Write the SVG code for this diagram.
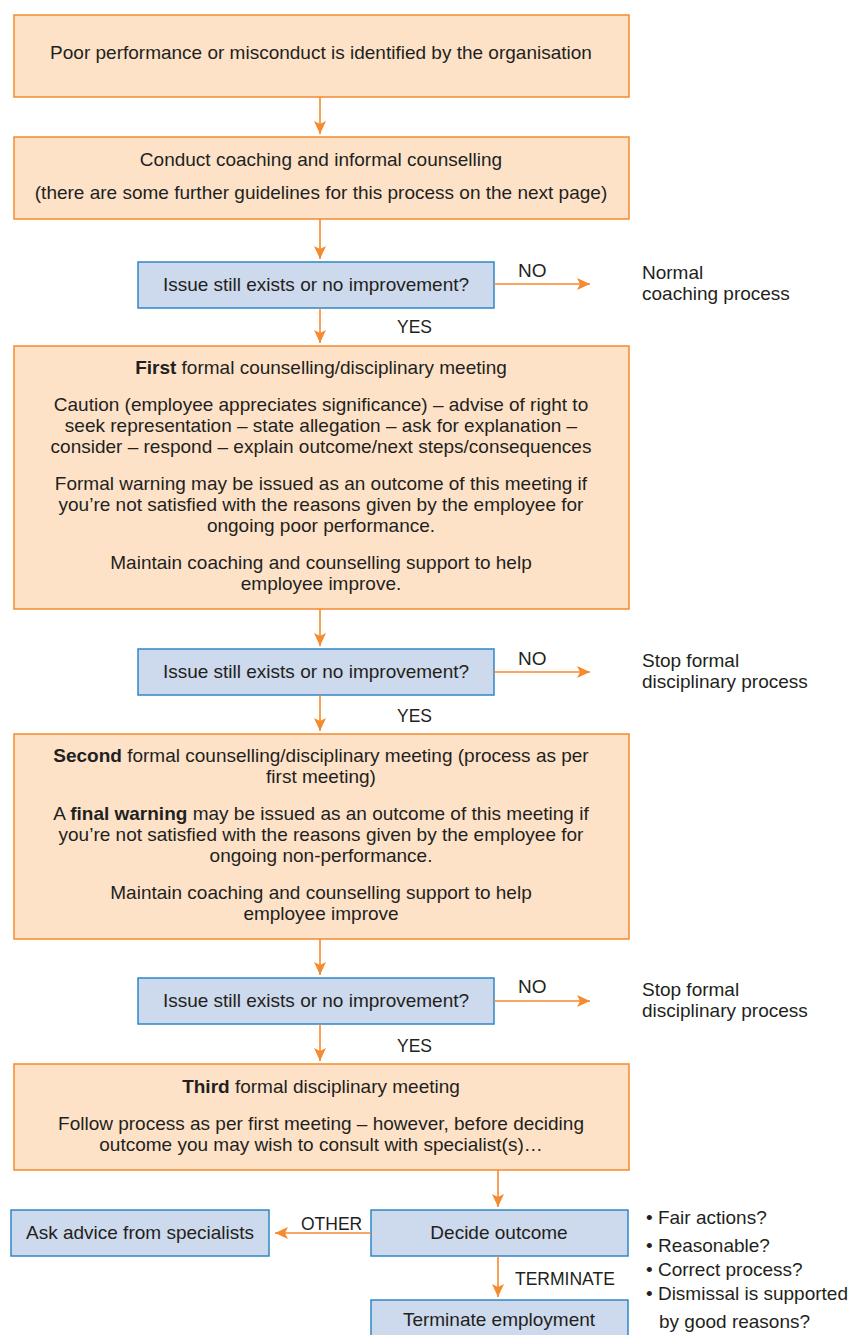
<svg xmlns="http://www.w3.org/2000/svg" width="853" height="1335" viewBox="0 0 853 1335">
<defs>
<marker id="ah" markerUnits="userSpaceOnUse" markerWidth="14" markerHeight="12" refX="13" refY="6" orient="auto">
<path d="M0,0 L13,6 L0,12 L3,6 Z" fill="#f58a2e"/>
</marker>
<style>
.ob{fill:#fde2c8;stroke:#f58a2e;stroke-width:1.5}
.bb{fill:#cdd9ec;stroke:#2f86c6;stroke-width:1.5}
text{font-family:"Liberation Sans",Arial,sans-serif;font-size:19px;fill:#231f20}
.c{text-anchor:middle}
.lb{font-size:17.5px}
.con{stroke:#f58a2e;stroke-width:1.6;fill:none;marker-end:url(#ah)}
</style>
</defs>
<rect width="853" height="1335" fill="#ffffff"/>

<g id="n1">
<rect class="ob" x="14" y="15" width="615" height="82"/>
<text class="c" x="321" y="59">Poor performance or misconduct is identified by the organisation</text>
</g>
<g id="n2">
<rect class="ob" x="14" y="137" width="615" height="82"/>
<text class="c" x="321" y="166">Conduct coaching and informal counselling</text>
<text class="c" x="321" y="199">(there are some further guidelines for this process on the next page)</text>
</g>
<g id="d1">
<rect class="bb" x="138" y="262" width="356" height="46"/>
<text class="c" x="316" y="291">Issue still exists or no improvement?</text>
</g>
<g id="t1">
<text x="642" y="279">Normal</text>
<text x="642" y="300">coaching process</text>
</g>
<g id="n3">
<rect class="ob" x="14" y="346" width="615" height="263"/>
<text class="c" x="321" y="374"><tspan font-weight="bold">First</tspan> formal counselling/disciplinary meeting</text>
<text class="c" x="321" y="411">Caution (employee appreciates significance) – advise of right to</text>
<text class="c" x="321" y="432">seek representation – state allegation – ask for explanation –</text>
<text class="c" x="321" y="453">consider – respond – explain outcome/next steps/consequences</text>
<text class="c" x="321" y="490">Formal warning may be issued as an outcome of this meeting if</text>
<text class="c" x="321" y="511">you’re not satisfied with the reasons given by the employee for</text>
<text class="c" x="321" y="532">ongoing poor performance.</text>
<text class="c" x="321" y="569">Maintain coaching and counselling support to help</text>
<text class="c" x="321" y="590">employee improve.</text>
</g>
<g id="d2">
<rect class="bb" x="138" y="649" width="356" height="46"/>
<text class="c" x="316" y="678">Issue still exists or no improvement?</text>
</g>
<g id="t2">
<text x="642" y="667">Stop formal</text>
<text x="642" y="688">disciplinary process</text>
</g>
<g id="n4">
<rect class="ob" x="14" y="734" width="615" height="205"/>
<text class="c" x="321" y="762"><tspan font-weight="bold">Second</tspan> formal counselling/disciplinary meeting (process as per</text>
<text class="c" x="321" y="783">first meeting)</text>
<text class="c" x="321" y="820">A <tspan font-weight="bold">final warning</tspan> may be issued as an outcome of this meeting if</text>
<text class="c" x="321" y="841">you’re not satisfied with the reasons given by the employee for</text>
<text class="c" x="321" y="862">ongoing non-performance.</text>
<text class="c" x="321" y="899">Maintain coaching and counselling support to help</text>
<text class="c" x="321" y="920">employee improve</text>
</g>
<g id="d3">
<rect class="bb" x="138" y="978" width="356" height="46"/>
<text class="c" x="316" y="1007">Issue still exists or no improvement?</text>
</g>
<g id="t3">
<text x="642" y="996">Stop formal</text>
<text x="642" y="1017">disciplinary process</text>
</g>
<g id="n5">
<rect class="ob" x="14" y="1064" width="615" height="106"/>
<text class="c" x="321" y="1093"><tspan font-weight="bold">Third</tspan> formal disciplinary meeting</text>
<text class="c" x="321" y="1130">Follow process as per first meeting – however, before deciding</text>
<text class="c" x="321" y="1151">outcome you may wish to consult with specialist(s)…</text>
</g>
<g id="n6">
<rect class="bb" x="371" y="1210" width="257" height="46"/>
<text class="c" x="499" y="1239">Decide outcome</text>
</g>
<g id="n7">
<rect class="bb" x="11" y="1210" width="258" height="46"/>
<text class="c" x="140" y="1239">Ask advice from specialists</text>
</g>
<g id="n8">
<rect class="bb" x="371" y="1300" width="257" height="46"/>
<text class="c" x="499" y="1326">Terminate employment</text>
</g>
<g id="t4">
<text x="646" y="1224">• Fair actions?</text>
<text x="646" y="1252">• Reasonable?</text>
<text x="646" y="1276">• Correct process?</text>
<text x="646" y="1300">• Dismissal is supported</text>
<text x="659" y="1328">by good reasons?</text>
</g>

<g id="connectors">
<line class="con" x1="320" y1="97" x2="320" y2="134"/>
<line class="con" x1="320" y1="219" x2="320" y2="259"/>
<line class="con" x1="494" y1="284" x2="590" y2="284"/>
<line class="con" x1="320" y1="308" x2="320" y2="343"/>
<line class="con" x1="320" y1="609" x2="320" y2="646"/>
<line class="con" x1="494" y1="672" x2="590" y2="672"/>
<line class="con" x1="320" y1="695" x2="320" y2="731"/>
<line class="con" x1="320" y1="939" x2="320" y2="975"/>
<line class="con" x1="494" y1="1001" x2="590" y2="1001"/>
<line class="con" x1="320" y1="1024" x2="320" y2="1061"/>
<line class="con" x1="498" y1="1170" x2="498" y2="1207"/>
<line class="con" x1="371" y1="1233" x2="275" y2="1233"/>
<line class="con" x1="498" y1="1256" x2="498" y2="1297"/>
<text x="518" y="277">NO</text>
<text class="lb" x="397" y="333">YES</text>
<text x="518" y="665">NO</text>
<text class="lb" x="397" y="722">YES</text>
<text x="518" y="993">NO</text>
<text class="lb" x="397" y="1052">YES</text>
<text class="lb" x="301" y="1230">OTHER</text>
<text class="lb" x="515" y="1285">TERMINATE</text>
</g>
</svg>
